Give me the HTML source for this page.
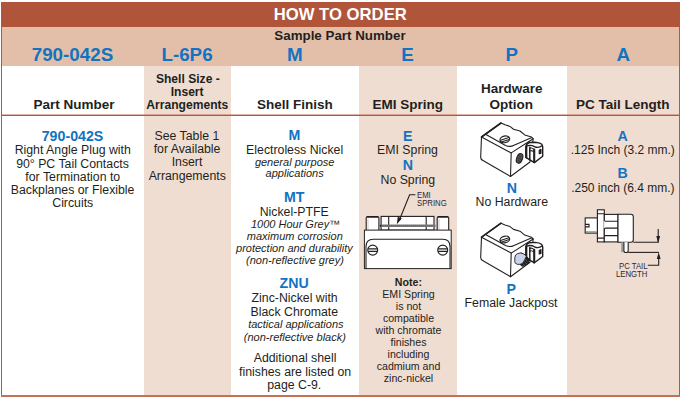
<!DOCTYPE html>
<html><head><meta charset="utf-8"><style>
html,body{margin:0;padding:0;background:#fff;width:682px;height:400px;overflow:hidden}
body{position:relative;font-family:"Liberation Sans",sans-serif}
.bg{position:absolute}
.t{position:absolute;width:300px;height:0;line-height:0;text-align:center;white-space:nowrap}
.s{position:absolute;height:0;line-height:0;white-space:nowrap;transform:scaleX(0.88);transform-origin:0 0}
svg{position:absolute;left:0;top:0}
</style></head><body>
<div class="bg" style="left:1px;top:2px;width:679px;height:25px;background:#b0553a"></div>
<div class="bg" style="left:1px;top:27px;width:679px;height:39px;background:#e3bfaa"></div>
<div class="bg" style="left:144px;top:66px;width:87px;height:330px;background:#f0ddd2"></div>
<div class="bg" style="left:359px;top:66px;width:98px;height:330px;background:#f0ddd2"></div>
<div class="bg" style="left:567px;top:66px;width:112px;height:330px;background:#f0ddd2"></div>
<div class="bg" style="left:1px;top:114px;width:679px;height:1px;background:rgba(181,88,61,0.45)"></div>
<div class="bg" style="left:1px;top:115px;width:679px;height:1px;background:#b5583d"></div>
<div class="bg" style="left:1px;top:27px;width:1px;height:369px;background:#b5583d"></div>
<div class="bg" style="left:679px;top:27px;width:1px;height:369px;background:#b5583d"></div>
<div class="bg" style="left:1px;top:395px;width:679px;height:2px;background:#c27259"></div>
<div class="t" style="left:190.25px;top:15.31px;font-size:16.7px;font-weight:bold;font-style:normal;color:#ffffff">HOW TO ORDER</div>
<div class="t" style="left:189.97px;top:36.37px;font-size:13.35px;font-weight:bold;font-style:normal;color:#231f20">Sample Part Number</div>
<div class="t" style="left:-77.54px;top:55.49px;font-size:18.8px;font-weight:bold;font-style:normal;color:#1273c1">790-042S</div>
<div class="t" style="left:37.03px;top:55.49px;font-size:18.8px;font-weight:bold;font-style:normal;color:#1273c1">L-6P6</div>
<div class="t" style="left:144.77px;top:55.49px;font-size:18.8px;font-weight:bold;font-style:normal;color:#1273c1">M</div>
<div class="t" style="left:257.63px;top:55.49px;font-size:18.8px;font-weight:bold;font-style:normal;color:#1273c1">E</div>
<div class="t" style="left:361.80px;top:55.49px;font-size:18.8px;font-weight:bold;font-style:normal;color:#1273c1">P</div>
<div class="t" style="left:473.33px;top:55.49px;font-size:18.8px;font-weight:bold;font-style:normal;color:#1273c1">A</div>
<div class="t" style="left:-76.00px;top:104.92px;font-size:13.5px;font-weight:bold;font-style:normal;color:#231f20">Part Number</div>
<div class="t" style="left:37.85px;top:78.81px;font-size:12.1px;font-weight:bold;font-style:normal;color:#231f20">Shell Size -</div>
<div class="t" style="left:37.14px;top:91.81px;font-size:12.1px;font-weight:bold;font-style:normal;color:#231f20">Insert</div>
<div class="t" style="left:37.35px;top:104.81px;font-size:12.1px;font-weight:bold;font-style:normal;color:#231f20">Arrangements</div>
<div class="t" style="left:144.80px;top:105.32px;font-size:13.5px;font-weight:bold;font-style:normal;color:#231f20">Shell Finish</div>
<div class="t" style="left:257.80px;top:105.32px;font-size:13.5px;font-weight:bold;font-style:normal;color:#231f20">EMI Spring</div>
<div class="t" style="left:361.75px;top:89.32px;font-size:13.5px;font-weight:bold;font-style:normal;color:#231f20">Hardware</div>
<div class="t" style="left:361.35px;top:105.32px;font-size:13.5px;font-weight:bold;font-style:normal;color:#231f20">Option</div>
<div class="t" style="left:472.75px;top:105.32px;font-size:13.5px;font-weight:bold;font-style:normal;color:#231f20">PC Tail Length</div>
<div class="t" style="left:-77.50px;top:135.78px;font-size:14.2px;font-weight:bold;font-style:normal;color:#1273c1">790-042S</div>
<div class="t" style="left:-77.25px;top:150.14px;font-size:12.3px;font-weight:normal;font-style:normal;color:#231f20">Right Angle Plug with</div>
<div class="t" style="left:-77.50px;top:164.24px;font-size:12.3px;font-weight:normal;font-style:normal;color:#231f20">90° PC Tail Contacts</div>
<div class="t" style="left:-77.26px;top:177.34px;font-size:12.3px;font-weight:normal;font-style:normal;color:#231f20">for Termination to</div>
<div class="t" style="left:-77.45px;top:190.44px;font-size:12.3px;font-weight:normal;font-style:normal;color:#231f20">Backplanes or Flexible</div>
<div class="t" style="left:-77.25px;top:202.54px;font-size:12.3px;font-weight:normal;font-style:normal;color:#231f20">Circuits</div>
<div class="t" style="left:36.90px;top:136.34px;font-size:12.3px;font-weight:normal;font-style:normal;color:#231f20">See Table 1</div>
<div class="t" style="left:37.05px;top:148.64px;font-size:12.3px;font-weight:normal;font-style:normal;color:#231f20">for Available</div>
<div class="t" style="left:37.02px;top:161.94px;font-size:12.3px;font-weight:normal;font-style:normal;color:#231f20">Insert</div>
<div class="t" style="left:37.25px;top:176.24px;font-size:12.3px;font-weight:normal;font-style:normal;color:#231f20">Arrangements</div>
<div class="t" style="left:144.48px;top:134.58px;font-size:14.2px;font-weight:bold;font-style:normal;color:#1273c1">M</div>
<div class="t" style="left:144.65px;top:150.24px;font-size:12.3px;font-weight:normal;font-style:normal;color:#231f20">Electroless Nickel</div>
<div class="t" style="left:144.65px;top:161.99px;font-size:11.0px;font-weight:normal;font-style:italic;color:#231f20">general purpose</div>
<div class="t" style="left:144.65px;top:172.59px;font-size:11.0px;font-weight:normal;font-style:italic;color:#231f20">applications</div>
<div class="t" style="left:144.27px;top:196.68px;font-size:14.2px;font-weight:bold;font-style:normal;color:#1273c1">MT</div>
<div class="t" style="left:144.20px;top:211.54px;font-size:12.3px;font-weight:normal;font-style:normal;color:#231f20">Nickel-PTFE</div>
<div class="t" style="left:145.58px;top:223.69px;font-size:11.0px;font-weight:normal;font-style:italic;color:#231f20">1000 Hour Grey™</div>
<div class="t" style="left:144.80px;top:236.19px;font-size:11.0px;font-weight:normal;font-style:italic;color:#231f20">maximum corrosion</div>
<div class="t" style="left:144.43px;top:248.19px;font-size:11.0px;font-weight:normal;font-style:italic;color:#231f20">protection and durability</div>
<div class="t" style="left:145.00px;top:260.19px;font-size:11.0px;font-weight:normal;font-style:italic;color:#231f20">(non-reflective grey)</div>
<div class="t" style="left:144.20px;top:282.58px;font-size:14.2px;font-weight:bold;font-style:normal;color:#1273c1">ZNU</div>
<div class="t" style="left:144.63px;top:297.74px;font-size:12.3px;font-weight:normal;font-style:normal;color:#231f20">Zinc-Nickel with</div>
<div class="t" style="left:144.35px;top:311.54px;font-size:12.3px;font-weight:normal;font-style:normal;color:#231f20">Black Chromate</div>
<div class="t" style="left:145.85px;top:323.89px;font-size:11.0px;font-weight:normal;font-style:italic;color:#231f20">tactical applications</div>
<div class="t" style="left:144.85px;top:337.19px;font-size:11.0px;font-weight:normal;font-style:italic;color:#231f20">(non-reflective black)</div>
<div class="t" style="left:145.06px;top:357.74px;font-size:12.3px;font-weight:normal;font-style:normal;color:#231f20">Additional shell</div>
<div class="t" style="left:145.10px;top:372.44px;font-size:12.3px;font-weight:normal;font-style:normal;color:#231f20">finishes are listed on</div>
<div class="t" style="left:144.25px;top:385.44px;font-size:12.3px;font-weight:normal;font-style:normal;color:#231f20">page C-9.</div>
<div class="t" style="left:257.68px;top:135.88px;font-size:14.2px;font-weight:bold;font-style:normal;color:#1273c1">E</div>
<div class="t" style="left:257.50px;top:150.04px;font-size:12.3px;font-weight:normal;font-style:normal;color:#231f20">EMI Spring</div>
<div class="t" style="left:257.75px;top:165.08px;font-size:14.2px;font-weight:bold;font-style:normal;color:#1273c1">N</div>
<div class="t" style="left:257.85px;top:179.74px;font-size:12.3px;font-weight:normal;font-style:normal;color:#231f20">No Spring</div>
<div class="t" style="left:258.40px;top:282.13px;font-size:10.6px;font-weight:bold;font-style:normal;color:#231f20">Note:</div>
<div class="t" style="left:258.50px;top:293.93px;font-size:10.6px;font-weight:normal;font-style:normal;color:#231f20">EMI Spring</div>
<div class="t" style="left:258.50px;top:305.93px;font-size:10.6px;font-weight:normal;font-style:normal;color:#231f20">is not</div>
<div class="t" style="left:258.50px;top:317.93px;font-size:10.6px;font-weight:normal;font-style:normal;color:#231f20">compatible</div>
<div class="t" style="left:258.50px;top:329.93px;font-size:10.6px;font-weight:normal;font-style:normal;color:#231f20">with chromate</div>
<div class="t" style="left:258.50px;top:341.93px;font-size:10.6px;font-weight:normal;font-style:normal;color:#231f20">finishes</div>
<div class="t" style="left:258.50px;top:353.93px;font-size:10.6px;font-weight:normal;font-style:normal;color:#231f20">including</div>
<div class="t" style="left:258.50px;top:365.93px;font-size:10.6px;font-weight:normal;font-style:normal;color:#231f20">cadmium and</div>
<div class="t" style="left:258.50px;top:377.93px;font-size:10.6px;font-weight:normal;font-style:normal;color:#231f20">zinc-nickel</div>
<div class="t" style="left:361.90px;top:187.88px;font-size:14.2px;font-weight:bold;font-style:normal;color:#1273c1">N</div>
<div class="t" style="left:361.80px;top:201.74px;font-size:12.3px;font-weight:normal;font-style:normal;color:#231f20">No Hardware</div>
<div class="t" style="left:361.33px;top:288.88px;font-size:14.2px;font-weight:bold;font-style:normal;color:#1273c1">P</div>
<div class="t" style="left:361.05px;top:303.34px;font-size:12.3px;font-weight:normal;font-style:normal;color:#231f20">Female Jackpost</div>
<div class="t" style="left:472.65px;top:135.78px;font-size:14.2px;font-weight:bold;font-style:normal;color:#1273c1">A</div>
<div class="t" style="left:472.80px;top:149.74px;font-size:12.0px;font-weight:normal;font-style:normal;color:#231f20">.125 Inch (3.2 mm.)</div>
<div class="t" style="left:472.73px;top:172.58px;font-size:14.2px;font-weight:bold;font-style:normal;color:#1273c1">B</div>
<div class="t" style="left:472.83px;top:187.64px;font-size:12.0px;font-weight:normal;font-style:normal;color:#231f20">.250 inch (6.4 mm.)</div>
<div class="s" style="left:416.50px;top:195.25px;font-size:8.8px;color:#2a2838">EMI</div>
<div class="s" style="left:416.50px;top:203.25px;font-size:8.8px;color:#2a2838">SPRING</div>
<div class="s" style="left:619.40px;top:266.25px;font-size:8.8px;color:#2a2838">PC TAIL</div>
<div class="s" style="left:616.20px;top:274.25px;font-size:8.8px;color:#2a2838">LENGTH</div>
<svg width="682" height="400" viewBox="0 0 682 400">
<defs>
<pattern id="hatch" width="2" height="2" patternUnits="userSpaceOnUse"><rect width="2" height="2" fill="#6e6e6e"/><rect width="1" height="1" fill="#a8a8a8"/></pattern>
<g id="blk" fill="none" stroke="#231f20" stroke-width="1.1" stroke-linejoin="round" stroke-linecap="round">
 <path d="M481.5,137 L501,123 L505,124.8 L510,126.4 L513.5,129.2 L520,131 L524.7,134.9 L531.5,137.1 L533.2,138.8 L530,162 L510.5,176.5 L483,160.5 Q480.5,159.5 480.7,157 L481.5,137 Z" fill="#fff"/>
 <path d="M481.5,137 L501,123" stroke-width="1.6"/>
 <path d="M481.5,137 L511.2,152.9 L533.2,138.8"/>
 <path d="M511.2,152.9 L510.5,176.5"/>
 <path d="M486,134.5 L505.5,145.4 Q510,147.4 514,145.2 L531.8,137.6"/>
 <ellipse cx="504.8" cy="139.3" rx="4.9" ry="3.3" transform="rotate(-14 504.8 139.3)" fill="#fff" stroke-width="1.2"/>
 <path d="M500.6,140.2 L508.8,137.6 M501.2,142 L509.2,139.4" stroke-width="1.1"/>
 <path d="M525.8,147 Q526.2,143.5 529.5,142.5 L535,142.2 Q539.5,142.5 541.5,144 Q542.7,145 542.7,147 L542.7,156.3 L534.4,162.6 L525.8,157.4 Z" fill="#fff" stroke-width="1.4"/>
 <path d="M526.4,146.5 L526.4,157.6" stroke-width="1.9"/>
 <path d="M534.2,149.6 L534.2,162.3" stroke-width="2.1"/>
 <path d="M529.8,147.2 L529.8,160" stroke-width="1.5"/>
 <path d="M526.5,146.2 Q530.5,144.2 534.5,146.6 Q538.5,148.6 542.4,145.6" stroke-width="1.3"/>
 <path d="M529.8,148.2 Q532,147.4 534,149.4 M529.8,150.8 Q532,150 534,152" stroke-width="1.1"/>
 <path d="M539.2,150.3 L541,149.3 L541,153.2 L539.2,153.8 Z" fill="#231f20"/>
</g>
</defs>
<!-- EMI connector -->
<g fill="#fff" stroke="#231f20" stroke-width="1.1">
 <path d="M366.2,230.1 L366.2,218 Q366.2,216.5 367.7,216.5 L377.4,216.5 Q378.9,216.5 378.9,218 L378.9,230.1"/>
 <path d="M437.2,230.1 L437.2,218 Q437.2,216.5 438.7,216.5 L447.2,216.5 Q448.7,216.5 448.7,218 L448.7,230.1"/>
 <path d="M367,217 L378.1,217 M438,217 L447.9,217" stroke-width="1.6" fill="none"/>
 <path d="M368,219 L368,229.5 M439,219 L439,229.5" stroke="#bbb" stroke-width="0.8" fill="none"/>
 <rect x="381.1" y="216.4" width="52.9" height="13.7"/>
 <path d="M388.7,216.4 L388.7,230.1 M426.2,216.4 L426.2,230.1" fill="none"/>
 <rect x="380.2" y="224.5" width="55.4" height="2.5" fill="#7a7a7a" stroke="none"/><path d="M381,225.7 L435,225.7" stroke="#555" stroke-width="0.8" stroke-dasharray="1 1" fill="none"/><circle cx="380.6" cy="225.7" r="0.9" fill="#231f20" stroke="none"/>
 <rect x="364.4" y="230.1" width="86.8" height="38.5" stroke-width="1"/>
 <path d="M366,268.6 L366,246.4 Q366,239.2 373.2,239.2 L443,239.2 Q450,239.2 450,246.4 L450,268.6" fill="none"/>
 <circle cx="372.7" cy="250.1" r="5"/>
 <path d="M368,248.8 L377.4,248.8 M368,251.3 L377.4,251.3" fill="none" stroke-width="1.2"/>
 <circle cx="442.7" cy="250.1" r="5"/>
 <path d="M438,248.8 L447.4,248.8 M438,251.3 L447.4,251.3" fill="none" stroke-width="1.2"/>
</g>
<g fill="none" stroke="#231f20" stroke-width="1.1">
 <path d="M415.4,194.7 L409.6,194.7 L399.2,220.5"/>
 <path d="M397.6,222.6 L398.2,217.6 L400.9,218.8 Z" fill="#231f20"/>
</g>
<!-- hardware -->
<use href="#blk"/>
<ellipse cx="519.6" cy="158.4" rx="2.9" ry="5" transform="rotate(20 519.6 158.4)" fill="#555" stroke="#231f20" stroke-width="1.1"/>
<path d="M518.2,155.5 L521.2,157 M517.8,158 L521.4,159.6 M517.9,160.5 L520.8,161.8" stroke="#222" stroke-width="0.7"/>
<use href="#blk" transform="translate(0 100.2)"/>
<g stroke="#231f20" stroke-width="1">
 <path d="M520.7,252.9 L526.3,256.2 L529.2,259.2 L528.4,263.5 L522.4,266.2 L520.5,265 Z" fill="#231f20"/>
 <path d="M523,257.5 L527.5,261.5 M522.5,260 L527,264 M521.5,262.5 L524.5,265.3" stroke="#777" stroke-width="0.6"/>
 <path d="M514.8,257.5 Q515.5,254.3 517.3,253.7 L520.7,252.9 Q524.5,253.5 526.3,256.2 Q525,260 522.4,263.5 Q520,264.8 517.3,264.3 Q514.6,263.4 514.8,261.8 Z" fill="#c6d3ea" stroke-width="0.9"/>
</g>
<!-- PC tail -->
<g fill="#fff" stroke="#231f20" stroke-width="1.1">
 <rect x="585.2" y="217.9" width="12.3" height="15.2"/>
 <path d="M585.2,224.4 L589,224.4 L589,226.9 L585.2,226.9" fill="none"/>
 <path d="M586,231.8 L596.5,231.8" stroke="#888" stroke-width="1" fill="none"/>
 <rect x="597.4" y="209.8" width="6.9" height="32.1"/>
 <path d="M597.4,213.8 L604.3,213.8 M597.4,238.1 L604.3,238.1" fill="none"/>
 <rect x="604.3" y="214.4" width="13.7" height="27.5"/>
 <path d="M604.3,221.2 L618,221.2 M604.3,228.1 L618,228.1 M604.3,235.6 L618,235.6" fill="none"/>
 <path d="M604.3,221.2 L604.3,228.1" stroke="#fff" stroke-width="1.2"/>
 <path d="M618,214.2 L630.8,214.2 Q633.3,214.2 633.3,216.7 L633.3,239.8 Q633.3,242.2 630.8,242.2 L618,242.2 Z"/>
 <rect x="621.2" y="242.2" width="2.4" height="10" fill="#9a9a9a" stroke="none"/>
 <path d="M623.9,242.2 L623.9,250.4 Q623.9,252.5 626,252.5 Q628.2,252.5 628.2,250.4 L628.2,242.2"/>
</g>
<g fill="none" stroke="#231f20" stroke-width="1.1">
 <path d="M633.3,242.3 L658.2,242.3 L658.2,228.9"/>
 <path d="M628.2,252.4 L659,252.4"/>
 <path d="M647.8,265.2 L658.7,265.2 L658.7,257.5"/>
 <path d="M657,236.6 L659.4,236.6 L658.2,240.9 Z" fill="#231f20"/>
 <path d="M657.5,258.5 L659.9,258.5 L658.7,254.3 Z" fill="#231f20"/>
</g>
</svg>

</body></html>
